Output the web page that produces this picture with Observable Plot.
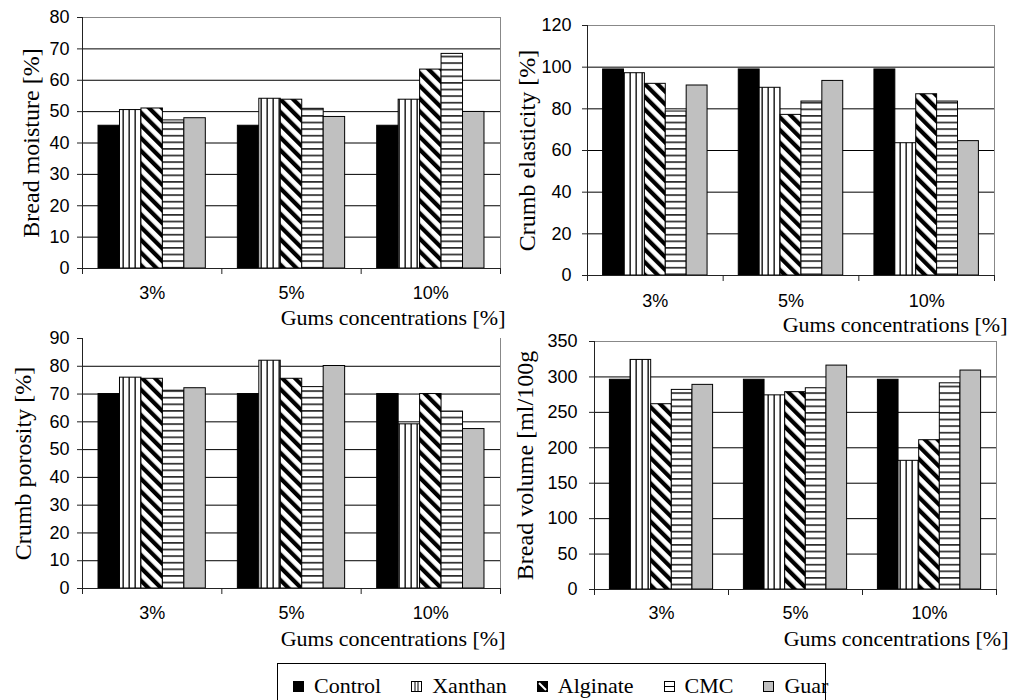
<!DOCTYPE html>
<html>
<head>
<meta charset="utf-8">
<script src="https://cdn.jsdelivr.net/npm/d3@7"></script>
<script src="https://cdn.jsdelivr.net/npm/@observablehq/plot@0.6"></script>
<style>
html, body { margin: 0; padding: 0; width: 1013px; height: 700px; overflow: hidden; background: #fff; }
#wrap { position: relative; width: 1013px; height: 700px; overflow: hidden; }
.panel { position: absolute; overflow: hidden; }
#legend { position: absolute; left: 277px; top: 663px; width: 549px; height: 60px; box-sizing: border-box;
  border: 1px solid #000; color: #000;
  display: flex; align-items: flex-start; padding-left: 15px; padding-top: 10px; }
.item { display: flex; align-items: center; margin-right: 30px; line-height: 24px; }
.item svg { margin-right: 10px; }
.item span { font-family: 'Liberation Serif', 'Times New Roman', serif; font-size: 22px; }
</style>
</head>
<body>
<svg width="0" height="0" style="position:absolute">
  <defs>
    <pattern id="pXan" patternUnits="userSpaceOnUse" width="6" height="6">
      <rect width="6" height="6" fill="#fff"/><rect x="2.5" width="1.3" height="6" fill="#000"/>
    </pattern>
    <pattern id="pAlg" patternUnits="userSpaceOnUse" width="9" height="9" patternTransform="rotate(-45)">
      <rect width="9" height="9" fill="#fff"/><rect width="4.2" height="9" fill="#000"/>
    </pattern>
    <pattern id="pCmc" patternUnits="userSpaceOnUse" width="7" height="6.6">
      <rect width="7" height="6.6" fill="#fff"/><rect y="3" width="7" height="1.4" fill="#000"/>
    </pattern>
  </defs>
</svg>
<div id="wrap">
  <div class="panel" id="p1" style="left:0;top:0;width:507px;height:334px"></div>
  <div class="panel" id="p2" style="left:507px;top:0;width:506px;height:345px"></div>
  <div class="panel" id="p3" style="left:0;top:328px;width:507px;height:332px"></div>
  <div class="panel" id="p4" style="left:507px;top:330px;width:506px;height:330px"></div>
  <div id="legend"></div>
</div>
<script>
// ---- data ----
const concentrations = ["3%", "5%", "10%"];
const gums = ["Control", "Xanthan", "Alginate", "CMC", "Guar"];
const gumFills = ["#000000", "url(#pXan)", "url(#pAlg)", "url(#pCmc)", "#c0c0c0"];

// values per concentration, in the order of gums
const moisture3 = [45.5, 50.5, 51.0, 47.2, 47.9];
const moisture5 = [45.5, 54.1, 53.8, 50.9, 48.3];
const moisture10 = [45.5, 53.8, 63.4, 68.4, 49.9];

const elasticity3 = [98.9, 97.1, 92.0, 78.7, 91.2];
const elasticity5 = [98.9, 90.1, 77.1, 83.5, 93.4];
const elasticity10 = [98.9, 63.5, 87.0, 83.5, 64.5];

const porosity3 = [70.0, 75.9, 75.5, 71.2, 72.1];
const porosity5 = [70.0, 82.0, 75.5, 72.5, 80.1];
const porosity10 = [70.0, 59.1, 70.0, 63.7, 57.4];

const volume3 = [296, 324, 261.5, 281.7, 288.8];
const volume5 = [296, 274, 278.5, 284, 316];
const volume10 = [296, 181.6, 210.7, 291, 309];

const xTitle = "Gums concentrations [%]";

// ---- drawing ----
const bw = 0.154;                 // bar width as a fraction of a group
const pad = (1 - gums.length * bw) / 2;

function panel(cfg) {
  const rows = concentrations.flatMap((c, g) =>
    gums.map((gum, i) => ({ g, i, gum, conc: c, value: cfg.values[g][i] })));
  const yTicks = d3.range(0, cfg.ymax + cfg.step / 2, cfg.step);
  const grid = yTicks.filter(t => t > 0 && t <= cfg.gridMax);
  const marks = [
    Plot.ruleY(grid, { stroke: "#000", strokeWidth: 1 }),
    cfg.drawTop ? Plot.ruleY([cfg.ymax], { stroke: "#888", strokeWidth: 1 }) : null,
    Plot.ruleX([concentrations.length], { stroke: "#888", strokeWidth: 1 }),
    Plot.rect(rows, {
      x1: d => d.g + pad + d.i * bw,
      x2: d => d.g + pad + (d.i + 1) * bw,
      y1: 0, y2: "value",
      fill: "gum", stroke: "#000", strokeWidth: 1
    }),
    Plot.ruleX([0], { stroke: "#222" }),
    Plot.ruleY([0], { stroke: "#222" }),
    Plot.axisY({ ticks: yTicks, tickSize: 5, tickPadding: cfg.tickPad, label: null, stroke: "#222" }),
    Plot.axisX({ ticks: d3.range(0, concentrations.length + 1), tickSize: 6, tickFormat: () => "", label: null, stroke: "#222" }),
    Plot.text(concentrations, { x: (d, i) => i + 0.5, text: d => d, frameAnchor: "bottom", dy: cfg.tickDy, lineAnchor: "middle" }),
    Plot.text([cfg.yLabel], { frameAnchor: "left", dx: cfg.yLabelDx, rotate: -90, textAnchor: "middle", lineAnchor: "middle",
      fontFamily: "Liberation Serif", fontSize: 24 }),
    Plot.text([xTitle], { frameAnchor: "bottom-right", textAnchor: "end", lineAnchor: "middle", dx: cfg.titleDx, dy: cfg.titleDy,
      fontFamily: "Liberation Serif", fontSize: 22 })
  ].filter(Boolean);
  const chart = Plot.plot({
    width: cfg.width, height: cfg.height,
    marginLeft: cfg.ml, marginRight: cfg.mr, marginTop: cfg.mt, marginBottom: cfg.mb,
    x: { domain: [0, concentrations.length] },
    y: { domain: [0, cfg.ymax] },
    color: { domain: gums, range: gumFills },
    style: { fontFamily: "'Liberation Sans', Arial, sans-serif", fontSize: "18px", background: "transparent", color: "#000" },
    marks
  });
  document.getElementById(cfg.el).appendChild(chart);
}

panel({ el: "p1", width: 507, height: 334, ml: 82, mr: 7, mt: 17, mb: 66,
  ymax: 80, step: 10, gridMax: 70, drawTop: true, tickPad: 8,
  values: [moisture3, moisture5, moisture10], yLabel: "Bread moisture [%]",
  yLabelDx: -51, tickDy: 25, titleDx: 5, titleDy: 49 });

panel({ el: "p2", width: 506, height: 345, ml: 80, mr: 19, mt: 25, mb: 70,
  ymax: 120, step: 20, gridMax: 100, drawTop: true, tickPad: 11,
  values: [elasticity3, elasticity5, elasticity10], yLabel: "Crumb elasticity [%]",
  yLabelDx: -60, tickDy: 26, titleDx: 13, titleDy: 49 });

panel({ el: "p3", width: 507, height: 332, ml: 82, mr: 7, mt: 10, mb: 72,
  ymax: 90, step: 10, gridMax: 80, drawTop: false, tickPad: 8,
  values: [porosity3, porosity5, porosity10], yLabel: "Crumb porosity [%]",
  yLabelDx: -59.5, tickDy: 25, titleDx: 5, titleDy: 50 });

panel({ el: "p4", width: 506, height: 330, ml: 87, mr: 17, mt: 11, mb: 71,
  ymax: 350, step: 50, gridMax: 300, drawTop: true, tickPad: 12,
  values: [volume3, volume5, volume10], yLabel: "Bread volume [ml/100g",
  yLabelDx: -69, tickDy: 24, titleDx: 12, titleDy: 49 });

// ---- legend ----
const icons = {
  Control: '<rect x="0.5" y="0.5" width="10" height="10" fill="#000" stroke="#000"/>',
  Xanthan: '<rect x="0.5" y="0.5" width="10" height="10" fill="#fff" stroke="#000"/><line x1="4" y1="0" x2="4" y2="11" stroke="#000"/><line x1="7" y1="0" x2="7" y2="11" stroke="#000"/>',
  Alginate: '<rect x="0.5" y="0.5" width="10" height="10" fill="#000" stroke="#000"/><line x1="2" y1="2" x2="9" y2="9" stroke="#fff" stroke-width="2"/>',
  CMC: '<rect x="0.5" y="0.5" width="10" height="10" fill="#fff" stroke="#000"/><line x1="0" y1="5.5" x2="11" y2="5.5" stroke="#000"/>',
  Guar: '<rect x="0.5" y="0.5" width="10" height="10" fill="#c0c0c0" stroke="#000"/>'
};
const legend = document.getElementById("legend");
gums.forEach(g => {
  const item = document.createElement("div");
  item.className = "item";
  item.innerHTML = `<svg width="11" height="11">${icons[g]}</svg><span>${g}</span>`;
  legend.appendChild(item);
});
</script>
</body>
</html>
